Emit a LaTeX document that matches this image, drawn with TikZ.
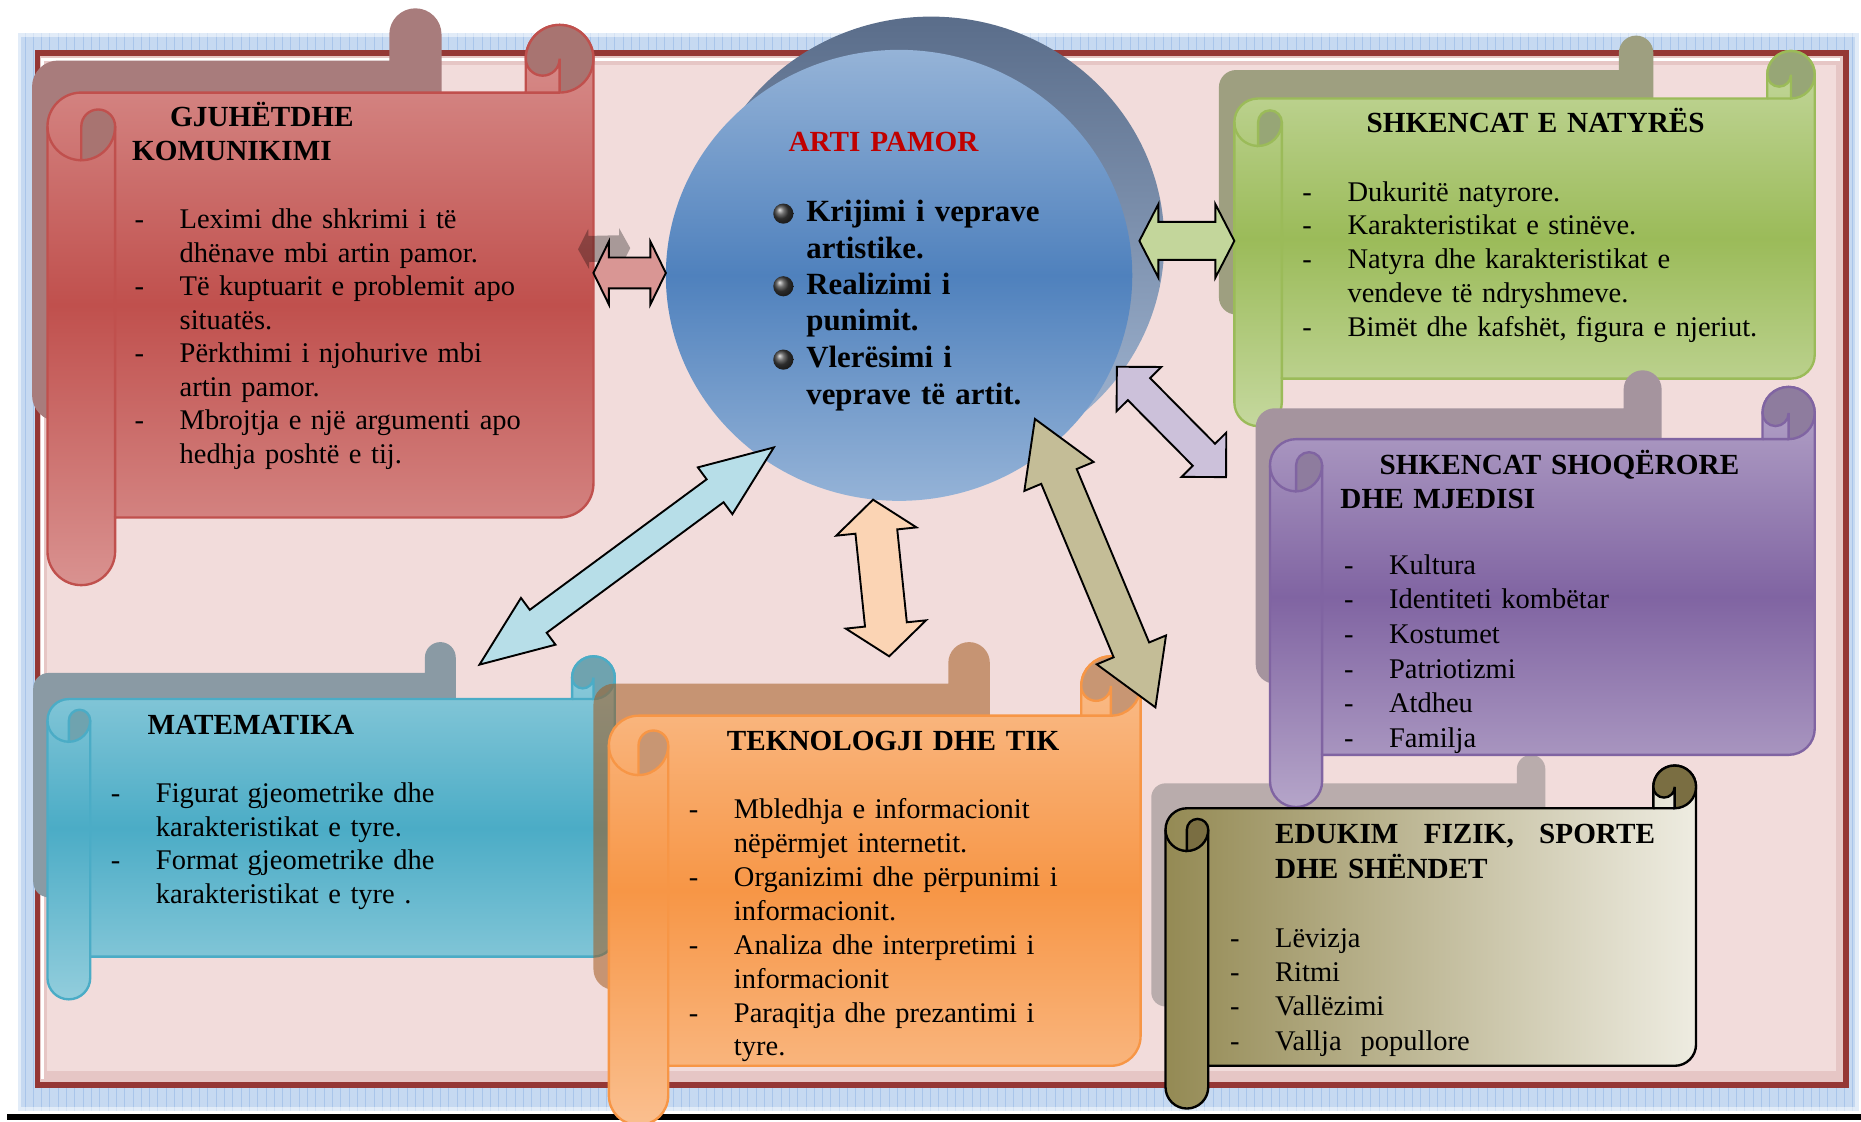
\documentclass[tikz,border=0pt]{standalone}
\usepackage{fontspec}
\setmainfont{Liberation Serif}
\usetikzlibrary{calc}

\definecolor{glow}{HTML}{C6D9F1}
\definecolor{glowline}{HTML}{A9C5EA}
\definecolor{framered}{HTML}{953735}
\definecolor{bevel}{HTML}{E6C6C5}
\definecolor{pinkbg}{HTML}{F2DCDB}
\definecolor{kom}{HTML}{C0504D}
\definecolor{komlight}{HTML}{D99290}
\definecolor{komcurl}{HTML}{A87471}
\definecolor{komshadow}{HTML}{A87C7C}
\definecolor{komarrow}{HTML}{D99694}
\definecolor{nat}{HTML}{9BBB59}
\definecolor{natlight}{HTML}{C5D89E}
\definecolor{natcurl}{HTML}{97A676}
\definecolor{natshadow}{HTML}{9E9F80}
\definecolor{natarrow}{HTML}{C3D69B}
\definecolor{sho}{HTML}{8064A2}
\definecolor{sholight}{HTML}{B5A5C9}
\definecolor{shocurl}{HTML}{8E7C9E}
\definecolor{shoshadow}{HTML}{A5949E}
\definecolor{shoarrow}{HTML}{CCC1DA}
\definecolor{edudark}{HTML}{948A54}
\definecolor{edulight}{HTML}{EEECE1}
\definecolor{educurl}{HTML}{7A6E42}
\definecolor{edushadow}{HTML}{B9ACAC}
\definecolor{eduarrow}{HTML}{C4BD97}
\definecolor{mat}{HTML}{4BACC6}
\definecolor{matlight}{HTML}{92CDDC}
\definecolor{matcurl}{HTML}{6FA3AF}
\definecolor{matshadow}{HTML}{8A9AA4}
\definecolor{matarrow}{HTML}{B7DEE8}
\definecolor{tek}{HTML}{F79646}
\definecolor{teklight}{HTML}{FABF8F}
\definecolor{tekcurl}{HTML}{C89673}
\definecolor{tekshadow}{HTML}{A2591E}
\definecolor{tekarrow}{HTML}{FBD4B4}
\definecolor{arttop}{HTML}{95B3D7}
\definecolor{artmid}{HTML}{4F81BD}
\definecolor{backtop}{HTML}{5A6D8A}
\definecolor{backbot}{HTML}{A4B9D6}
\definecolor{artred}{HTML}{C00000}

% scroll outline: x0, y0, x1, y1, roll radius
\newcommand{\scrollshape}[5]{(#1,#2+3*#5) arc[start angle=180,end angle=270,radius=#5]
  -- (#3-2*#5,#2+2*#5) -- (#3-2*#5,#2+#5) arc[start angle=180,end angle=360,radius=#5]
  -- (#3,#4-3*#5) arc[start angle=0,end angle=90,radius=#5]
  -- (#1+2*#5,#4-2*#5) -- (#1+2*#5,#4-#5) arc[start angle=0,end angle=180,radius=#5] -- cycle}
\newcommand{\scrollcurls}[5]{(#1+#5,#2+4*#5) -- (#1+#5,#2+3*#5)
  arc[start angle=180,end angle=360,radius=#5/2] arc[start angle=0,end angle=90,radius=#5] -- cycle
  (#3-#5,#2+2*#5) arc[start angle=90,end angle=-180,radius=#5]
  arc[start angle=180,end angle=0,radius=#5/2] -- cycle}
\newcommand{\scrolllines}[5]{(#1,#2+3*#5) arc[start angle=180,end angle=90,radius=#5]
  (#1+2*#5,#2+3*#5) -- (#1+2*#5,#4-2*#5)
  (#3-2*#5,#2+2*#5) -- (#3-#5,#2+2*#5)}
\newcommand{\drawscroll}[8]{%
  \path[draw=#6, line width=1pt, #7] \scrollshape{#1}{#2}{#3}{#4}{#5};
  \path[draw=#6, line width=1pt, fill=#8] \scrollcurls{#1}{#2}{#3}{#4}{#5};
  \draw[#6, line width=1pt] \scrolllines{#1}{#2}{#3}{#4}{#5};}
\newcommand{\shadowscroll}[6]{\fill[#6] \scrollshape{#1}{#2}{#3}{#4}{#5};}
% double block arrow: style, from, to, head length, head half width, shaft half width
\newcommand{\dblarrow}[6]{%
  \path[#1] (#2)
    -- ($(#2)!#4!(#3)!#5!90:(#3)$) -- ($(#2)!#4!(#3)!#6!90:(#3)$)
    -- ($(#3)!#4!(#2)!#6!-90:(#2)$) -- ($(#3)!#4!(#2)!#5!-90:(#2)$)
    -- (#3)
    -- ($(#3)!#4!(#2)!#5!90:(#2)$) -- ($(#3)!#4!(#2)!#6!90:(#2)$)
    -- ($(#2)!#4!(#3)!#6!-90:(#3)$) -- ($(#2)!#4!(#3)!#5!-90:(#3)$)
    -- cycle;}
\newcommand{\dsh}{\makebox[0pt][r]{\makebox[19pt][l]{-}}}

\tikzset{
  boxhead/.style={anchor=base west, inner sep=0pt, align=left, text width=240pt,
    font=\fontsize{12.3}{14.4}\selectfont\bfseries},
  boxbody/.style={anchor=base west, inner sep=0pt, align=left, text width=240pt,
    font=\fontsize{12}{#1}\selectfont},
  artitem/.style={anchor=base west, inner sep=0pt, align=left, text width=150pt,
    font=\fontsize{13}{15.3}\selectfont\bfseries},
  blockarrow/.style={draw=black, line width=0.8pt, line join=miter}
}

\begin{document}
\begin{tikzpicture}[x=0.5pt, y=-0.5pt]
\clip (0,0) rectangle (1568,945.3);
\fill[white] (0,0) rectangle (1568,945.3);

% frame
\fill[glow] (15,28) rectangle (1566,936);
\draw[glowline, line width=0.3pt, step=7] (15,28) grid (1566,936);
\draw[white, opacity=.5, line width=3pt] (15,28) rectangle (1566,936);
\fill[framered] (29.5,42) rectangle (1557.5,916.5);
\fill[bevel] (34,47) rectangle (1553,912);
\draw[white, line width=1.2pt] (36,909) -- (36,50) -- (1550,50);
\fill[pinkbg] (40,55) rectangle (1547,902);
\draw[line width=2.5pt] (6,941) -- (1568,941);

% arti pamor
\coordinate (art) at (757.5,232);
\shade[top color=backtop, bottom color=backbot] ($(art)+(27,-28)$) ellipse[x radius=196.5, y radius=190];
\shade[top color=arttop, bottom color=arttop, middle color=artmid] (art) ellipse[x radius=196.5, y radius=190];

% scrolls
\shadowscroll{27}{7}{372}{355}{22}{komshadow}
\drawscroll{40}{21}{500}{493}{28.5}{kom}{top color=komlight, bottom color=komlight, middle color=kom}{komcurl}
\shadowscroll{1027}{30}{1393}{265}{14.5}{natshadow}
\drawscroll{1040}{43}{1529}{359}{20}{nat}{top color=natlight, bottom color=natlight, middle color=nat}{natcurl}
\shadowscroll{970}{636}{1302}{848}{12}{edushadow}
\shadowscroll{1058}{312}{1400}{576}{16}{shoshadow}
\drawscroll{1070}{326}{1529}{680}{22}{sho}{top color=sholight, bottom color=sholight, middle color=sho}{shocurl}
\drawscroll{982}{645}{1429}{934}{18}{black}{left color=edudark, right color=edulight}{educurl}
\shadowscroll{28}{541}{384}{756}{13}{matshadow}
\drawscroll{40}{553}{518}{842}{18}{mat}{top color=matlight, bottom color=matlight, middle color=mat}{matcurl}
\shadowscroll{500}{541}{834}{834}{17.5}{tekshadow, fill opacity=.55}
\drawscroll{513}{553}{961}{948}{25}{tek}{top color=teklight, bottom color=teklight, middle color=tek}{tekcurl}

% texts
\node[boxhead] (komhead) at (111,106.5) {\hspace*{16pt}GJUHËTDHE\\KOMUNIKIMI};
\node[boxbody=14.15pt] (kombody) at (151,192.5) {\dsh Leximi dhe shkrimi i të\\dhënave mbi artin pamor.\\
  \dsh Të kuptuarit e problemit apo\\situatës.\\\dsh Përkthimi i njohurive mbi\\artin pamor.\\
  \dsh Mbrojtja e një argumenti apo\\hedhja poshtë e tij.};

\node[boxhead] (nathead) at (1151,112) {SHKENCAT E NATYRËS};
\node[boxbody=14.25pt] (natbody) at (1135,169.5) {\dsh Dukuritë natyrore.\\\dsh Karakteristikat e stinëve.\\
  \dsh Natyra dhe karakteristikat e\\vendeve të ndryshmeve.\\\dsh Bimët dhe kafshët, figura e njeriut.};

\node[boxhead] (shohead) at (1129,400) {\hspace*{16.5pt}SHKENCAT SHOQËRORE\\DHE MJEDISI};
\node[boxbody=14.55pt] (shobody) at (1170,484) {\dsh Kultura\\\dsh Identiteti kombëtar\\\dsh Kostumet\\
  \dsh Patriotizmi\\\dsh Atdheu\\\dsh Familja};

\node[boxhead] (eduhead) at (1074,711) {\makebox[160pt][l]{EDUKIM\hfill FIZIK,\hfill SPORTE}\\DHE SHËNDET};
\node[boxbody=14.45pt] (edubody) at (1074,798) {\dsh Lëvizja\\\dsh Ritmi\\\dsh Vallëzimi\\\dsh Vallja\ \ popullore};

\node[boxhead] (mathead) at (124,619) {MATEMATIKA};
\node[boxbody=14.25pt] (matbody) at (131,676) {\dsh Figurat gjeometrike dhe\\karakteristikat e tyre.\\
  \dsh Format gjeometrike dhe\\karakteristikat e tyre .};

\node[boxhead] (tekhead) at (612,632.5) {TEKNOLOGJI DHE TIK};
\node[boxbody=14.3pt] (tekbody) at (618,689.5) {\dsh Mbledhja e informacionit\\nëpërmjet internetit.\\
  \dsh Organizimi dhe përpunimi i\\informacionit.\\\dsh Analiza dhe interpretimi i\\informacionit\\
  \dsh Paraqitja dhe prezantimi i\\tyre.};

\node[boxhead, text=artred] (arthead) at (664,128) {ARTI PAMOR};
\node[artitem] (kri) at (679,187) {Krijimi i veprave\\artistike.};
\node[artitem] (rea) at (679,248.2) {Realizimi i\\punimit.};
\node[artitem] (vle) at (679,310) {Vlerësimi i\\veprave të artit.};
\foreach \n in {kri, rea, vle}
  \shade[ball color=black!75] ($(\n.base west)+(-19,-7)$) circle[radius=8.5];

% arrows
\coordinate (komsA) at (487,210);   \coordinate (komsB) at (531,209);
\coordinate (komA) at (500,230);    \coordinate (komB) at (561,230);
\coordinate (natA) at (960,203);    \coordinate (natB) at (1040,203);
\coordinate (shoA) at (941,309);    \coordinate (shoB) at (1033,402);
\coordinate (eduA) at (872,353);    \coordinate (eduB) at (973.5,596);
\coordinate (matA) at (652,377);    \coordinate (matB) at (404,560);
\coordinate (tekA) at (735.6,421);  \coordinate (tekB) at (749.2,553);

\dblarrow{fill=black, fill opacity=.3}{komsA}{komsB}{4.5pt}{8.5pt}{5.5pt}
\dblarrow{blockarrow, fill=komarrow}{komA}{komB}{6.5pt}{13.25pt}{6.5pt}
\dblarrow{blockarrow, fill=natarrow}{natA}{natB}{8pt}{15.5pt}{8pt}
\dblarrow{blockarrow, fill=shoarrow}{shoA}{shoB}{13.25pt}{13.25pt}{6.6pt}
\dblarrow{blockarrow, fill=eduarrow}{eduA}{eduB}{26.25pt}{15.8pt}{8.1pt}
\dblarrow{blockarrow, fill=matarrow}{matA}{matB}{30.75pt}{12.25pt}{6pt}
\dblarrow{blockarrow, fill=tekarrow}{tekA}{tekB}{13.5pt}{17pt}{8.85pt}
\end{tikzpicture}
\end{document}
